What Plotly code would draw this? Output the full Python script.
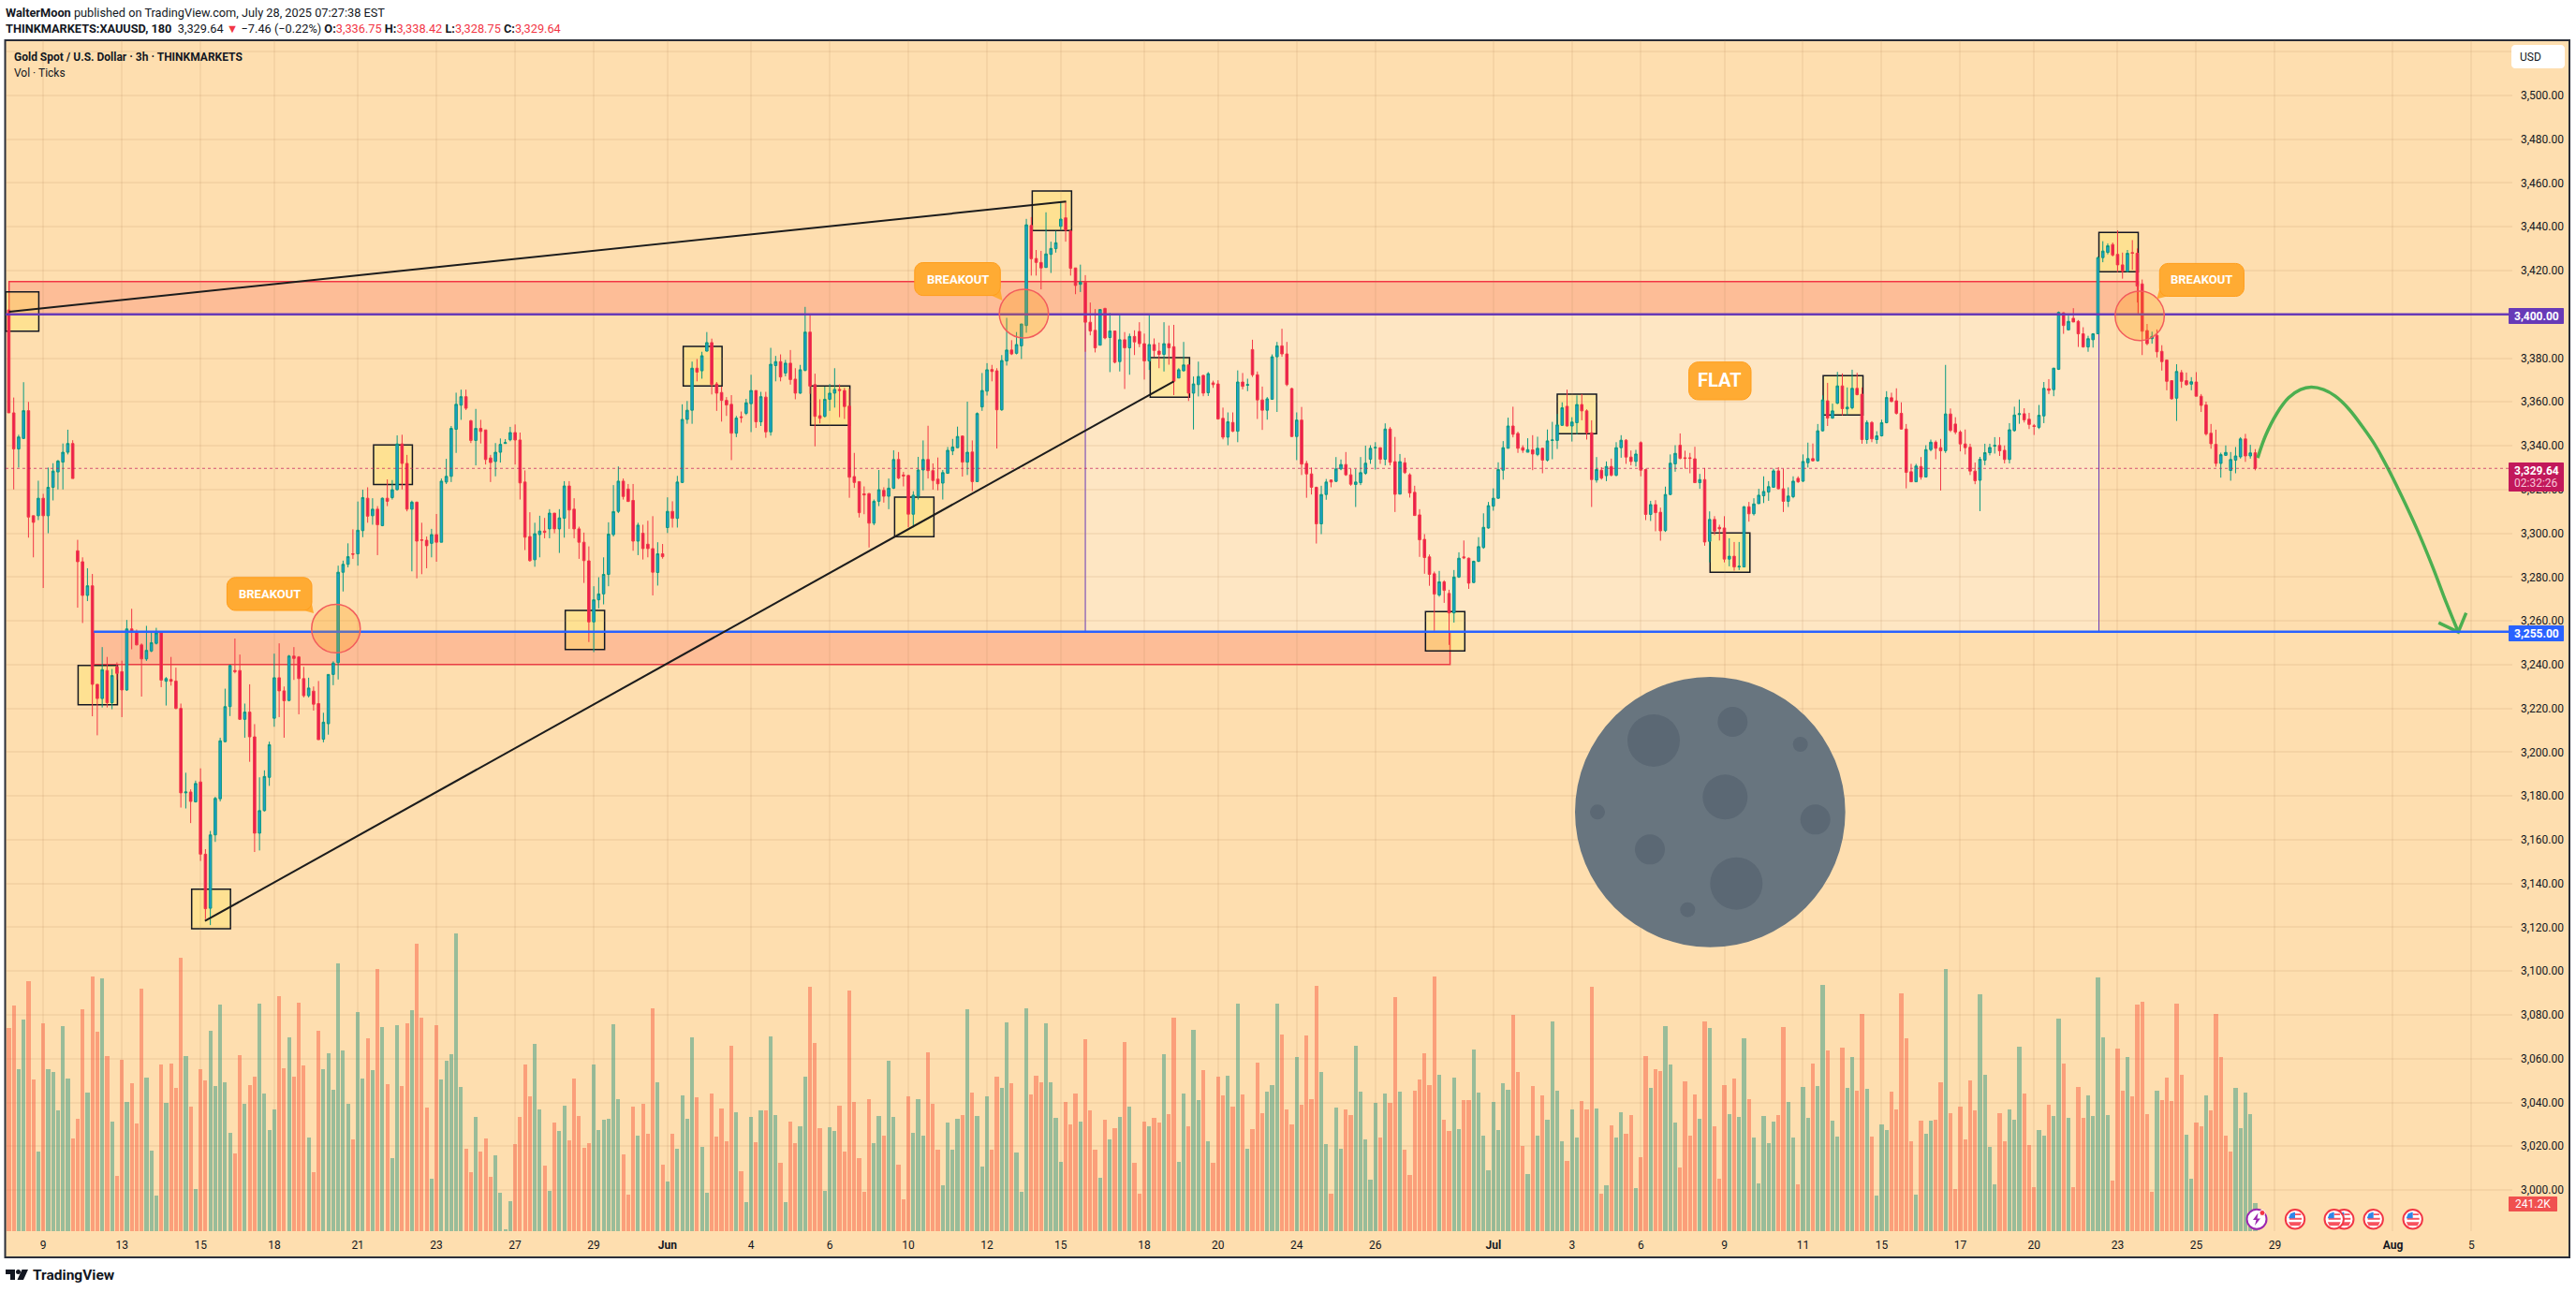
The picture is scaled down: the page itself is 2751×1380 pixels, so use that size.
import plotly.graph_objects as go

# ---------- candles (3h bars, bar index = position in list) ----------
opens = [
3402,3355,3338.5,3343.3,3356,3308,3308,3316,3308,3321,
3328,3332.5,3337,3341,3292,3287,3271.6,3276,3231,3224.5,
3237.3,3222.6,3239,3236.8,3228.4,3256.3,3254.7,3249,3242.6,3246.2,
3249.7,3254.5,3232.4,3233.2,3232.5,3220,3181.4,3181.8,3177.3,3186.4,
3153.4,3128.7,3162.2,3178.7,3204.8,3220.8,3237.3,3237.3,3215,3218.3,
3207,3163,3173.3,3188.5,3215.5,3234,3228,3223.6,3243.9,3243.5,
3233.6,3225.8,3227.9,3222.2,3205.9,3213,3235.5,3240.9,3282.2,3285.8,
3290.6,3290.6,3301.2,3316,3308,3311,3303.5,3316,3316.3,3319.9,
3340.8,3331.9,3311,3314.2,3297,3296.8,3295.4,3299.4,3295.9,3323.4,
3326,3347.5,3358.5,3362.4,3351.4,3342.4,3347.9,3347.2,3334.4,3332.8,
3337,3341,3342.7,3346,3342.6,3323.4,3298.5,3287.9,3299.4,3301,
3302,3309.2,3302,3306.9,3321.6,3311,3302,3295.9,3287.4,3259.5,
3269.6,3272.3,3281.2,3299.4,3310,3323.8,3320.2,3315,3296.4,3300,
3295,3293,
3282.1,3290.6,3302.6,3310,3306.8,3323.2,3352,3356.2,3375.4,3374.2,
3383.2,3387.1,3368.2,3364.3,3360.7,3358.9,3345.7,3353.2,3354.8,3359.2,
3365.2,3350.9,3362.2,3346.3,3376.6,3378.4,3373.2,3377.7,3370.4,3364,
3374.4,3391.9,3367.9,3353.7,3353.4,3361.2,3364,3365.7,3365.2,3358.1,
3325.9,3323.6,3318,3318.1,3304.6,3314.6,3319.6,3316.9,3320.6,3333.7,
3326.6,3326.4,3308.7,3316.9,3328.9,3333.7,3328.6,3324.7,3322.9,3327.4,
3337.6,3339.1,3344.4,3332.5,3337.1,3323.6,3357.7,3364.9,3374.8,3374.2,
3356.4,3378.7,3383.7,3382.2,3385.6,3394.9,3440.6,3425.5,3423.7,3421.4,
3427.4,3430,3440.2,3444.1,3438.1,3421.2,3413.7,3414.7,3396.4,3392.7,
3385.9,3402.7,3389.4,3392.4,3378.4,3388.4,3384.7,3389.9,3392.2,3386.6,
3378.7,3386.2,3383.2,3381.7,3386.6,3385.2,3370.9,3374.2,3376.9,3364,
3367.9,3372.1,3364.2,3368.7,3368.2,3352.5,3343.9,3350.6,3346.6,3369.1,
3367.6,3383.9,3372.4,3360.9,3356.2,3361.2,3380.6,3385.6,3381.9,3366.1,
3344.2,3351.7,3331.9,
3327.1,3321,3304.3,3317.7,3324.3,3323.7,3329.4,3331.4,3326.7,3322.3,
3323.1,3327.4,3333.8,3339,3339.1,3333.8,3347.6,3332.7,3317.9,3332.2,
3326.7,3318.7,3308.4,3297.2,3289.2,3281.5,3271.8,3277.8,3272.5,3263.6,
3280,3289.2,3288.6,3277.5,3287.2,3293.5,3302.4,3312.4,3316,3328.8,
3338.8,3349,3345.6,3339.1,3337,3338.1,3336,3338.8,3333.4,3342.4,
3342.4,3349.3,3358,3349,3350.5,3358.8,3355.9,3345.9,3324.3,3328.8,
3326.3,3330.5,3326.5,3339.1,3342.5,3334.8,3332.8,3341.4,3329.1,3308.6,
3313.1,3309.6,3301.2,3317.7,3331.7,3340.2,3334.5,3334.5,3334,3323.1,
3324.5,3296.3,3306.3,3302.7,3302.4,3288.2,3289.5,3284.6,3284.6,3312.1,
3308.9,3313.5,3317.1,3318.8,3321,3328.5,3320.3,3314.6,3316.7,3325.1,
3323.8,3332.2,3334.1,3333.1,3346.8,3360.5,3352.6,3359.4,3367.3,3356.8,
3357.3,3366.2,3363.5,3342.8,3350.6,3342.8,3344.5,3350.5,3361.9,3360.5,
3354.8,3347.6,3328.1,3323.5,3330.5,3325.7,3338.2,3341.6,3339.1,3337.7,
3354.5,3349.9,3346.2,3340.8,
3339.3,3328.4,3324.2,3333.4,3336.8,3339.8,3340.1,3337.9,3333.7,3346.9,
3354.2,3354.6,3352.1,3349.1,3348.4,3353.6,3366,3365.6,3374.9,3400.7,
3392.9,3398.2,3396.8,3391.1,3385.1,3388.4,3391.1,3425.9,3428.3,3431.9,
3427.4,3422.6,3419.6,3428.2,3427.9,3413.9,3392.6,3388.9,3390.4,3383.1,
3379.1,3369.7,3361.7,3373.4,3369.7,3368.1,3369.1,3362.6,3358.6,3345.7,
3340.6,3331.9,3335.6,3328.7,3333.4,3334.9,3343.1,3335.3,3336.75]
highs = [
3402,3362,3345,3369,3360,3308,3324,3318,3330,3332,
3333.5,3341,3347.3,3342.5,3297,3289,3284,3281.4,3231,3248,
3243.5,3238,3241,3241.8,3260.4,3265.5,3256,3249.7,3257.7,3255,
3256.8,3254.5,3234.3,3243.5,3238.6,3222.2,3190.6,3183,3187,3192.6,
3155.7,3164,3179.6,3206.6,3229,3240,3251.9,3244.6,3222.2,3231,
3212.8,3188.5,3191.7,3204.8,3245,3249.7,3230,3244.4,3248,3243.9,
3239,3234,3230,3232.5,3218,3235.5,3241.5,3285.2,3287.5,3295.4,
3301.8,3314.5,3319.9,3321,3316,3312.4,3316.3,3324.6,3324.3,3344.7,
3345,3335.8,3314.9,3314.5,3304.8,3298.5,3302,3308.8,3325,3334,
3349,3364.2,3365.6,3365.6,3351.8,3356.8,3351.8,3347.2,3335.8,3341.2,
3343.3,3343,3348.6,3349.7,3346,3328.7,3309.6,3304.8,3308,3307,
3311,3309.2,3311,3323.8,3323.8,3316,3303,3300.3,3294,3275.8,
3279.9,3289,3305,3322,3330.5,3325,3322.5,3322.5,3304.8,3303.9,
3305.7,3307.8,
3295.9,3295.1,3316.4,3314.6,3326.2,3358.9,3360.4,3378.4,3379.6,3382.9,
3391.9,3388.9,3369.1,3367,3362.2,3363.1,3353.6,3355.6,3361.4,3372.4,
3365.2,3364.6,3364.6,3384.7,3381,3381.7,3379.2,3383.7,3375.4,3376.9,
3403.4,3399.9,3372.9,3361.2,3367,3368.2,3375.4,3368,3366.4,3366,
3336.7,3323.6,3321.4,3318.4,3315.4,3328.9,3321,3325,3337.9,3337.1,
3328,3326.6,3319.2,3334.9,3342.4,3349.1,3331.9,3334.6,3328.9,3339.4,
3343.1,3348.7,3344.6,3360.1,3342.4,3355.2,3373.2,3377.7,3376.9,3375.4,
3381.4,3398.4,3388.2,3391.9,3395.6,3443.6,3444.4,3429.4,3429,3446.6,
3433.2,3438.1,3451.2,3451.2,3438.1,3421.2,3422.7,3417.9,3405.4,3402.4,
3402.4,3403,3400.6,3392.4,3399.9,3391.9,3391.2,3392.7,3396.4,3391.2,
3399.9,3389,3387.1,3396.4,3394.9,3395.2,3375.4,3387.4,3376.9,3371.6,
3378.4,3372.4,3373.6,3369.7,3369.9,3357.4,3355.2,3355.2,3374.4,3373.2,
3370.6,3388.4,3373.9,3367,3362.2,3381.7,3387.4,3393.4,3387.4,3366.4,
3355.2,3357.7,3333.1,
3330,3321.3,3321.7,3324.8,3324.6,3334.8,3333.7,3337.1,3329.5,3329.4,
3334.8,3340,3340.2,3341.6,3339.1,3350.2,3348.5,3344,3336.2,3334.5,
3327.4,3321.7,3311,3299.6,3290.3,3282.5,3282.8,3278.5,3274.2,3283.2,
3291.3,3296.7,3288.9,3287.5,3298.2,3309.1,3314.3,3320.5,3332.4,3342.1,
3352.8,3357.8,3346.4,3340.2,3343.4,3344.8,3344.1,3339.1,3347.4,3350.9,
3354.5,3359.8,3365.6,3353,3363,3363.6,3356.6,3351.6,3334.8,3330.2,
3332.8,3334.1,3341.6,3344.8,3343,3337.8,3338.1,3342,3329.5,3314.8,
3315.1,3311.7,3321.3,3336,3340.2,3345.6,3337.7,3336.7,3339.5,3327.1,
3329.8,3310,3307.8,3303.9,3307.8,3297.7,3296,3296,3312.4,3314.3,
3316,3320.3,3326,3323.8,3329.5,3330.2,3329.5,3321,3326,3326,
3336,3341.4,3341,3349.9,3363,3368.7,3359.2,3373.7,3373,3366.6,
3374.7,3373.3,3366.6,3351.6,3351.2,3346.6,3351.9,3364.9,3364.2,3366.2,
3359.8,3349.9,3331.7,3331.7,3334.8,3340.2,3342.8,3342.4,3343.1,3376.9,
3357,3353,3347,3347.4,
3340.9,3332.3,3334.9,3340.9,3340.9,3343.9,3343.9,3340.1,3350.3,3357.8,
3361.1,3357.1,3355,3349.9,3358.6,3369.1,3370.4,3375.6,3401.3,3400.9,
3399.4,3402.8,3397.4,3394.1,3390.2,3391.4,3426.4,3433.4,3432.4,3432.8,
3438.4,3428.2,3429.4,3433.9,3430.1,3415.9,3395.6,3392.1,3393.1,3385.9,
3379.4,3369.8,3377.2,3374.6,3373.4,3371.3,3373.6,3363.6,3360.1,3349.9,
3347.3,3336.8,3340.1,3337.1,3339.4,3343.9,3345.4,3340.4,3338.42]
lows = [
3355,3320,3330,3343,3298,3289,3306,3275,3300,3315,
3320,3320,3336,3325,3266,3259,3269,3216.4,3207.7,3220.4,
3220.4,3219.6,3233,3216,3228,3247,3248.8,3225.4,3241.7,3245.7,
3249.2,3229.7,3221.3,3230.4,3219.6,3174.7,3174.3,3167.6,3177,3150.3,
3123.7,3121,3159,3177.5,3204.5,3216.5,3236,3214.8,3206.6,3195.6,
3154.4,3155.1,3172.9,3184.6,3211.6,3216,3206.6,3223.2,3233,3217.3,
3225,3225,3219,3205.7,3204.5,3208,3230.6,3233.2,3273.4,3284.4,
3288.3,3285.2,3298.2,3304.8,3303.9,3290,3303.2,3312.4,3315.4,3319.5,
3320,3310,3282.6,3279.4,3281.3,3284,3289,3287,3295.9,3322.5,
3323.4,3336.7,3351.8,3356.3,3341.2,3331,3341,3331.4,3323.4,3326,
3332.3,3341,3342,3331.4,3315.4,3292.3,3287,3284.7,3289,3297.7,
3297.7,3300,3291,3298,3302,3297.7,3288.3,3277.3,3250.3,3245.7,
3265.7,3267.5,3275.8,3298.5,3309.2,3315.4,3314.5,3292,3290,3288,
3289,3271.6,
3276.1,3288.4,3300.1,3302.6,3302.6,3322.9,3350,3350,3369.4,3370.6,
3383,3363.4,3355.9,3351,3353.6,3333.4,3343.9,3350.5,3354,3346.2,
3348.1,3349,3343.6,3344.6,3369.4,3369.4,3371.7,3367.9,3361.2,3363.7,
3374,3363.7,3339.7,3350.2,3352.9,3355.9,3357.4,3353,3352.2,3316.2,
3320.7,3307.2,3308.7,3293.5,3303.7,3312.4,3314,3311,3320.2,3324.7,
3321.4,3302.7,3302.7,3315.4,3319.6,3325,3319.9,3319.6,3315.4,3327.1,
3335.7,3339,3325.9,3326.6,3319.2,3323.6,3355.9,3362.9,3369.4,3338.7,
3355.9,3376.6,3381.4,3381.7,3379.6,3391.6,3417.7,3417.7,3411.4,3421.4,
3418.9,3428.2,3438.4,3433.2,3417.7,3409.2,3410.2,3382.9,3390.4,3382.6,
3385.9,3388.6,3373.6,3377.6,3373.9,3365.9,3372.4,3381.4,3385,3370.2,
3374.6,3380.6,3375.4,3373.9,3377,3363.1,3370.9,3373.9,3360.4,3347.4,
3362.5,3362.6,3362.7,3366.4,3351.9,3342.9,3340.2,3346.2,3341.6,3365.7,
3364.9,3371.4,3352.2,3347.2,3351.9,3361.2,3355.4,3380.6,3367.2,3343.9,
3333.4,3326.6,3316.2,
3317.7,3295.3,3299.6,3315.3,3321,3323.4,3328.8,3326.2,3321.7,3312,
3322,3326.7,3331.7,3329.1,3331.7,3331,3331,3309.7,3317.7,3327.1,
3316.3,3308.1,3289.2,3281.5,3276,3255.4,3271,3268.2,3249,3259.2,
3279.6,3288.2,3274.6,3277.2,3286.8,3292.9,3302.1,3310.3,3315.7,3324.5,
3338.8,3343.8,3336.7,3336.7,3337,3328.8,3335.2,3327.4,3332.8,3333.8,
3338.5,3349.1,3348.8,3341.9,3345.2,3351.6,3342.8,3312,3323.1,3324.5,
3323.8,3326,3326,3334.5,3331.7,3331,3330.5,3326,3306,3305.6,
3300.9,3296.6,3300.6,3317.4,3328.1,3333.8,3329.5,3327.4,3323.1,3320.3,
3294.3,3286.7,3299.2,3296.7,3286.7,3284.9,3282.9,3283.2,3284.6,3305.3,
3308.1,3313.6,3313.8,3314.8,3321,3320,3309.7,3312,3316,3323,
3323.4,3330,3332.8,3332.8,3346.5,3349,3352.3,3359,3353.8,3354,
3356.6,3363,3340.9,3340.9,3341.6,3340.9,3344.2,3350.2,3359.9,3354.2,
3347.3,3320.5,3323.4,3323.4,3324.5,3325.7,3337.4,3333.8,3319.5,3336.7,
3346.2,3345.2,3337.4,3336,
3326.6,3322.4,3310.1,3331.1,3335.6,3336.4,3335.3,3331.9,3331.9,3346.4,
3350,3350.6,3347.6,3344.9,3347.6,3350.3,3363.6,3362.6,3374.6,3391.1,
3392.9,3396.5,3385.1,3384.8,3382.9,3384.8,3391.1,3423.8,3427.4,3426.4,
3419.3,3416.3,3419.3,3420.4,3405.4,3381.4,3385.9,3386.6,3380.3,3374.3,
3365.3,3361.1,3351.3,3366.4,3367.4,3365.3,3362.6,3355.4,3344.6,3338.6,
3330.4,3325.4,3335.3,3324,3327.4,3334.1,3332.6,3334.1,3328.75]
closes = [
3355,3338.5,3344,3356,3307.4,3305,3316,3308,3321,3328.4,
3333,3337,3341,3325,3287,3271.6,3276,3231,3224.5,3237.7,
3222.6,3235,3236,3228.4,3256.3,3254.7,3249,3242.6,3246.5,3250,
3254.5,3232.9,3233.6,3232.4,3220,3181.4,3181.8,3177.5,3185.7,3153.4,
3128.5,3162.2,3178.9,3205.2,3220.8,3239.6,3236.8,3215,3218.3,3207,
3163,3173.3,3188.9,3203.4,3234,3228,3223.5,3243.9,3242.8,3233.6,
3225.8,3229.3,3221.9,3205.7,3213.7,3235.5,3240.7,3282.2,3285.8,3289.3,
3290.4,3301.4,3316.3,3307.8,3311,3303.9,3316,3314.6,3319.9,3340.8,
3331.9,3311,3314.2,3296.4,3296.8,3294.3,3299.4,3295.9,3323.8,3326,
3347.9,3358.9,3362.4,3357.1,3342.4,3347.9,3346.5,3333.7,3332.3,3337,
3340.6,3341.4,3346,3342.6,3323,3298.2,3287.5,3299.8,3301,3300.4,
3309.2,3302,3307,3321.6,3310.6,3302,3295.9,3287.5,3259.5,3269.6,
3272.3,3281.2,3299.6,3309.9,3323.8,3316.8,3314.5,3296.4,3303.7,3293,
3293,3282.2,
3290.6,3289.3,3310,3306.8,3323.4,3352,3356.2,3375.4,3373.6,3381.1,
3387.1,3367.9,3364,3360.7,3358.6,3345.7,3352.6,3352.9,3359.6,3365.2,
3350.9,3362.4,3346.3,3377.2,3378.4,3371.4,3377.7,3370.2,3364,3374.7,
3391.9,3367.2,3353.4,3352.5,3361.2,3364,3365.7,3365.2,3357.9,3325.6,
3323.2,3309.4,3317.5,3304.6,3314.6,3319.9,3316.9,3320.6,3333.7,3325.2,
3326.2,3308.7,3317.4,3328.9,3333.7,3328.6,3324.1,3322.6,3327.7,3337.9,
3339.4,3344.2,3332.5,3337,3323.6,3354.7,3365.2,3374.7,3373.9,3356.4,
3378.9,3383.7,3381.9,3386.2,3395.6,3440.9,3425.4,3423.7,3421.2,3427.6,
3430.1,3432.7,3443.5,3438.4,3421,3413.2,3414.7,3396.4,3392.4,3384.7,
3402.2,3389.2,3392.4,3378.1,3388.4,3384.7,3389.9,3387.4,3386.6,3378.7,
3386.2,3383.5,3381.7,3386.6,3384.7,3369.4,3374.7,3376.9,3364,3368.2,
3371.6,3364,3372.9,3367.9,3352.2,3343.9,3350.9,3346.6,3369.1,3367.1,
3367.9,3372.4,3360.9,3356.2,3361.4,3380.6,3385.6,3381.9,3367.9,3344.2,
3351.7,3331.6,3327.1,
3321,3304.3,3317.7,3323.4,3323.4,3329.4,3331.4,3326.7,3322.4,3323.4,
3327.7,3332,3338.8,3339.2,3333.8,3347.6,3332.4,3317.8,3332.7,3327.7,
3318.4,3308.1,3297,3288.9,3281.2,3272.2,3277.8,3273.9,3263.6,3280,
3288.6,3288.8,3277.2,3287.2,3293.9,3302.7,3312.6,3316,3329.1,3339.1,
3349,3345.2,3338.8,3337.9,3338.2,3336.2,3338.8,3333.4,3342.2,3342.6,
3349.5,3357.3,3349,3350.8,3358.8,3355.9,3345.9,3324.5,3329.1,3325.2,
3330.5,3326.5,3339.1,3342.5,3334.8,3332.8,3336.2,3328.8,3308.6,3313.1,
3309.4,3301.1,3317.7,3332,3336.5,3334.2,3334.2,3334.2,3323.1,3324.5,
3296,3306.3,3301,3302,3288.2,3289.5,3284.6,3284.9,3312.1,3308.9,
3313.4,3317.4,3319.1,3321.3,3328.5,3320.3,3314.6,3317,3323.8,3323.5,
3332.8,3334.1,3333.1,3346.8,3360.9,3352.6,3355.9,3367.3,3356.9,3357.6,
3366.2,3363.3,3342.8,3350.6,3343.1,3344.5,3350.5,3362,3360.2,3354.8,
3347.6,3327.8,3323.5,3330.7,3325.7,3338.2,3341.6,3338.8,3337.7,3354.5,
3347,3346.2,3340.8,3339.1,
3328.4,3324,3333.8,3336.8,3339.2,3340.1,3337.7,3333.7,3347.3,3354,
3354.6,3351.8,3349.7,3348.8,3353.9,3366.2,3365.3,3375.4,3400.9,3394.9,
3396.8,3396.5,3391.1,3385.1,3388.9,3391.1,3425.9,3428.9,3431.3,3427.1,
3422.6,3419.6,3427.9,3427.9,3412.9,3392.3,3386.6,3389.9,3382.9,3378.4,
3369.4,3361.4,3373.9,3369.4,3367.9,3369.2,3362.6,3358.4,3345.4,3340.9,
3331.9,3335.9,3336.9,3333.7,3335.3,3343.1,3335.3,3336.7,3329.64]

# ---------- volume (thousand ticks) and bar direction ----------
volumes = [
1762,1957,1404,1835,2168,1314,688,1802,1404,1379,
1046,1778,1322,802,973,1924,1201,2209,1729,2192,
1518,949,477,1485,1119,1282,932,2103,1331,696,
306,1444,1111,1453,1241,2371,1518,1079,363,1404,
1306,1737,1257,1965,1290,851,672,1526,1103,1266,
1339,1973,1192,875,1054,2038,1412,1680,1339,1981,
1436,810,509,1737,1404,1542,1225,2322,1566,1103,
794,1900,1322,1672,1396,2274,1770,1274,631,1786,
1257,1802,1916,2493,1851,1070,453,1786,1314,1477,
1534,2583,1249,713,509,989,688,802,469,656,
331,14,257,753,989,1444,1168,1623,1054,566,
347,940,867,1087,786,1322,997,721,762,1444,
875,965,973,1794,1144,664,314,1079,827,1103,
843,1932,1290,575,428,843,713,1176,973,1680,
1160,729,331,1192,818,1062,778,1607,1030,518,
249,
989,770,1046,1046,1688,1005,591,249,949,762,
908,1339,2119,1631,892,347,900,867,1087,688,
2087,1119,631,339,1144,762,997,827,1477,989,
575,274,1168,851,1144,827,1550,1103,705,396,
940,705,973,1005,1924,1201,997,558,1168,705,
1339,1241,1810,1282,680,339,1932,1184,1347,1290,
1802,1290,981,599,1119,924,1192,949,1664,1046,
705,461,965,794,892,989,1640,1079,591,322,
949,908,981,940,1534,1014,1851,599,1192,908,
1745,1135,1396,778,591,1339,1176,1347,1079,1973,
1184,713,883,1461,1022,1209,1266,1973,1705,1054,
924,1509,1095,1696,1144,2127,1379,753,322,1070,
713,1054,1005,1607,1209,794,444,1111,810,1192,
1111,2030,1209,705,485,1217,1314,1542,1266,2209,
1355,965,867,1331,883,1135,1135,1575,1201,827,
526,1119,875,
1282,1225,1875,1379,737,493,1257,827,1176,965,
1818,1217,778,607,1054,810,1127,1054,2119,1062,
322,396,916,810,1030,843,1005,371,640,1518,
1241,1404,1388,1778,1444,940,550,1298,827,1184,
973,1818,1762,908,453,1266,1014,1322,989,1672,
1144,810,412,997,762,949,1005,1770,1119,810,
404,1249,981,1453,1257,2135,1566,957,818,1591,
1241,1509,1217,1883,1233,818,306,924,875,1209,
1054,2062,1672,778,314,957,843,957,965,1290,
2274,1022,363,1079,794,1306,1046,2054,1355,729,
404,1022,778,1054,965,1599,1192,745,379,875,
827,1095,997,1843,1453,981,379,1249,981,1176,
997,2201,1680,1005,436,1583,1217,1509,1168,1965,
1989,1014,339,1217,1135,1331,1127,1973,1355,835,
453,940,908,1176,1046,1883,1509,827,688,1241,
892,1201,1014,241.2]
volume_dir = (
"RRGGRRGRGG" "GGGRRRGRRG" "RGRRGRRRGG" "GRGRRRGRGR"
"RGGGGGRRGR" "RGGGGRRGRR" "RGRRGGGGGG" "RGGRGRGRGG"
"RRGRRRGRGG" "GGGRRGRRRG" "GGGRRRRGGR" "GRGGRRRRRG"
"GGGGGRRRGR" "RRGRGRGGGG" "RGGRRRRRGR" "G"
"GRGRGGRGRR" "GGRRRGGGRR" "RRRRRGGRGG" "RRRGGGRRRG"
"GGGRGRGGGR" "RGGRGGGRRR" "GGGGRRRGRR" "RGRGRGRGRR"
"RGRRGRRGGR" "GGRGRRRGRG" "RGRRRGGGRR" "RGRRRRGGRG"
"GRRGGGGGRG" "RRGRRRRRRR" "GRRGGRRGGG" "GGG"
"GGRRRGRGRG" "GGGRGGRRRG" "RGRGGRRGRR" "GRRGGGRRRR"
"GRGRRRGRGG" "RGGGGGRRGG" "RGGRGGRGGR" "GGRRGRGGGR"
"RRRRGRGGRR" "GRRRRRRGGG" "GRRGGGRRRG" "GRGGRGRRRG"
"GGGGRRRGRR" "RRRGRRRRRG" "GRRGRRRRRG" "GGGGGRGR")

# ---------- axis ticks ----------
date_pos = [7,23,39,54,71,87,103,119,134,151,167,183,199,214,231,246,262,278,302,318,332,349,365,381,397,412,429,445,461,485,501]
date_txt = ["9","13","15","18","21","23","27","29","<b>Jun</b>","4","6","10","12","15","18","20","24","26","<b>Jul</b>","3","6","9","11","15","17","20","23","25","29","<b>Aug</b>","5"]
price_ticks = [3000,3020,3040,3060,3080,3100,3120,3140,3160,3180,3200,3220,3240,3260,3280,3300,3320,3340,3360,3380,3400,3420,3440,3460,3480,3500,3520]
price_labels = ["3,000.00","3,020.00","3,040.00","3,060.00","3,080.00","3,100.00","3,120.00","3,140.00","3,160.00","3,180.00","3,200.00","3,220.00","3,240.00","3,260.00","3,280.00","3,300.00","3,320.00","3,340.00","3,360.00","3,380.00","","3,420.00","3,440.00","3,460.00","3,480.00","3,500.00",""]
price_min, price_max = 2981.2, 3525.2
volume_max = 10341
last_price = 3329.64
resistance, support = 3400, 3255

# ---------- drawings, in bar index / price ----------
rect_i0 = [-0.65,14.1,37.2,74.2,113.2,137.2,163.1,180.2,208.2,232.2,288.2,315,346.1,369.1,425.2]
rect_i1 = [6.1,22.1,45.1,82.1,121.2,145.1,171.1,188.2,216.2,240.2,296.2,323,354.2,377.2,433.2]
rect_p0 = [3392.3,3221.7,3119.3,3322.3,3246.9,3367.3,3349.3,3298.4,3438.3,3362.2,3246.2,3345.5,3282.2,3354,3419.5]
rect_p1 = [3410.3,3239.6,3137.4,3340.3,3264.8,3385.3,3367.3,3316.5,3456.3,3380.2,3264.2,3363.5,3300.1,3372,3437.4]
circle_i0 = [61.6,201.5,428.5]
circle_i1 = [71.5,211.5,438.5]
circle_p0 = [3245.4,3389.2,3388]
circle_p1 = [3267.5,3411.4,3410.6]
forecast_i = [457.5,459.1,461.5,463.8,466.2,468.4,470.9,473.3,476.1,478.9,481.2,484,486.8,489.9,493.1,495.9,498.3]
forecast_p = [3334.4,3344.6,3355.1,3361.9,3365.6,3366.7,3365.6,3362.6,3356.6,3348.4,3340.9,3329.6,3316.9,3301.9,3284.6,3268.1,3254.9]
arrow_i = [494.3,498.3,499.9]
arrow_p = [3259.1,3254.9,3263.6]

# ---------- page geometry ----------
W, H = 2751, 1380
PL, PR, PT, PB = 6, 2683, 43, 1315
BG = "#FEDEAF"
fx = lambda x: (x - PL) / (PR - PL)
fy = lambda y: (PB - y) / (PB - PT)
n = min(len(opens), len(highs), len(lows), len(closes))
idx = list(range(n))
m = min(len(volumes), len(volume_dir))

def poly(pts):
    return "M" + " L".join(f"{fx(x):.6f},{fy(y):.6f}" for x, y in pts) + " Z"

def rrect(x0, y0, x1, y1, r):
    k = 0.45 * r
    c = lambda x, y: f"{fx(x):.6f},{fy(y):.6f}"
    return (f"M{c(x0+r,y0)} L{c(x1-r,y0)} C{c(x1-k,y0)} {c(x1,y0+k)} {c(x1,y0+r)} "
            f"L{c(x1,y1-r)} C{c(x1,y1-k)} {c(x1-k,y1)} {c(x1-r,y1)} "
            f"L{c(x0+r,y1)} C{c(x0+k,y1)} {c(x0,y1-k)} {c(x0,y1-r)} "
            f"L{c(x0,y0+r)} C{c(x0,y0+k)} {c(x0+k,y0)} {c(x0+r,y0)} Z")

shapes, anns = [], []
def pshape(path, fill, line=None, lw=0, layer="above"):
    shapes.append(dict(type="path", xref="paper", yref="paper", path=path, fillcolor=fill,
                       line=dict(color=line or fill, width=lw), layer=layer))
def pcircle(cx, cy, r, fill, line=None, lw=0, layer="above"):
    shapes.append(dict(type="circle", xref="paper", yref="paper", x0=fx(cx-r), x1=fx(cx+r),
                       y0=fy(cy+r), y1=fy(cy-r), fillcolor=fill,
                       line=dict(color=line or fill, width=lw), layer=layer))
def text(x, y, s, size=12, color="#131722", xa="left", family="Roboto"):
    anns.append(dict(xref="paper", yref="paper", x=fx(x), y=fy(y), text=s, showarrow=False,
                     xanchor=xa, yanchor="middle", align="left", borderpad=0, borderwidth=0,
                     font=dict(family=family, size=size, color=color)))

# chart background + frame (extends under both axes)
shapes.append(dict(type="rect", xref="paper", yref="paper", x0=fx(5.5), x1=fx(2744), y0=fy(1343), y1=fy(43),
                   fillcolor=BG, line=dict(color="#2A2E39", width=2), layer="below"))

# zones
DRAW = dict(xref="x", yref="y", layer="below")
shapes.append(dict(type="rect", x0=0.05, x1=433.2, y0=resistance, y1=3415,
                   fillcolor="rgba(252,90,80,0.25)", line=dict(color="#F23645", width=1.5), **DRAW))
shapes.append(dict(type="rect", x0=17.3, x1=293.2, y0=3240, y1=support,
                   fillcolor="rgba(252,90,80,0.25)", line=dict(color="#F23645", width=1.5), **DRAW))
shapes.append(dict(type="rect", x0=219, x1=425.2, y0=support, y1=resistance,
                   fillcolor="rgba(255,255,255,0.25)", line=dict(color="#673AB7", width=1), **DRAW))
for a, b, c, d in zip(rect_i0, rect_i1, rect_p0, rect_p1):
    shapes.append(dict(type="rect", x0=a, x1=b, y0=c, y1=d,
                       fillcolor="rgba(255,235,59,0.25)", line=dict(color="#131722", width=1.5), **DRAW))

# horizontal levels
LEVEL = dict(xref="x", yref="y", layer="above")
shapes.append(dict(type="line", x0=-0.65, x1=509.3, y0=last_price, y1=last_price,
                   line=dict(color="rgba(194,24,91,0.7)", width=1, dash="dot"), **LEVEL))
shapes.append(dict(type="line", x0=-0.65, x1=509.3, y0=resistance, y1=resistance,
                   line=dict(color="#673AB7", width=2.5), **LEVEL))
shapes.append(dict(type="line", x0=17.3, x1=509.3, y0=support, y1=support,
                   line=dict(color="#2962FF", width=2.5), **LEVEL))
# trend lines
shapes.append(dict(type="line", x0=0.07, x1=215.1, y0=3401.2, y1=3451.5,
                   line=dict(color="#1C1C1C", width=2), **LEVEL))
shapes.append(dict(type="line", x0=39.9, x1=237, y0=3122.9, y1=3369.4,
                   line=dict(color="#1C1C1C", width=2), **LEVEL))
# circles
for a, b, c, d in zip(circle_i0, circle_i1, circle_p0, circle_p1):
    shapes.append(dict(type="circle", x0=a, x1=b, y0=c, y1=d, fillcolor="rgba(255,152,0,0.25)",
                       line=dict(color="#F25C5C", width=1.5), **LEVEL))

# callouts
OR, ORL = "#FFAB33", "#FF9D1A"
for (x0, y0, x1, y1, tip, left) in [(242.4, 616.8, 333, 652, (335, 655), False),
                                    (976.8, 280.5, 1068.3, 315.6, (1070.5, 321), False),
                                    (2306.3, 281.4, 2396.4, 316.5, (2303.4, 319.3), True)]:
    if left:
        pshape(poly([(x0+12, y1-1), (x0+1, y1-12), tip]), OR)
    else:
        pshape(poly([(x1-12, y1-1), (x1-1, y1-12), tip]), OR)
    pshape(rrect(x0, y0, x1, y1, 9), OR, ORL, 1)
    text((x0+x1)/2, (y0+y1)/2, "<b>BREAKOUT</b>", 13, "white", "center")
pshape(rrect(1803.6, 386.7, 1870, 427, 10), OR, ORL, 1)
text(1836.8, 406.5, "<b>FLAT</b>", 20, "white", "center")

# moon
MX, MY = 1670, 710
pcircle(MX+469/3, MY+472/3, 433/3, "#68757F")
for cx, cy, r in [(288,243,84),(541,183,48),(758,255,24),(517,424,72),(108,472,24),
                  (806,496,48),(276,592,48),(553,701,84),(397,785,24)]:
    pcircle(MX+cx/3, MY+cy/3, r/3, "#5B6874")

# event icons
def flag(x, y=1302.3):
    pcircle(x, y, 10.2, "white", "#F23645", 2)
    pshape(poly([(x-6,y-1.5),(x+7,y-1.5),(x+7,y+0.5),(x-6,y+0.5)]), "#F7525F")
    pshape(poly([(x-7,y+3),(x+7,y+3),(x+5,y+7),(x-5,y+7)]), "#F7525F")
    pshape(poly([(x,y-6),(x+6,y-6),(x+6.5,y-4.2),(x,y-4.2)]), "#F7525F")
    pshape(poly([(x-7,y-1),(x-5,y-6),(x-1,y-7.5),(x,y-7.5),(x,y-1)]), "#2E86E8")
for xx in [2451, 2503.3, 2492.7, 2534.7, 2576.7]:
    flag(xx)
pcircle(2410, 1302.3, 10.5, "white", "#9C27B0", 2)
pshape(poly([(2411.5,1295.5),(2406,1303),(2409.5,1303),(2408,1309),(2414,1301.5),(2410.5,1301.5)]), "#9C27B0")
pcircle(2416, 1295.5, 3, "#F23645", "white", 1)

# price tags and axis widgets
pshape(rrect(2682, 48, 2739, 73, 4), "white")
text(2691, 61, "USD", 12)
pshape(rrect(2679, 329, 2738, 346, 1), "#673AB7")
text(2708.5, 337.5, "<b>3,400.00</b>", 12, "white", "center")
pshape(rrect(2679, 668, 2738, 685, 1), "#2962FF")
text(2708.5, 676.5, "<b>3,255.00</b>", 12, "white", "center")
pshape(rrect(2679, 494, 2738, 525, 1), "#C2185B")
text(2708.5, 502.5, "<b>3,329.64</b>", 12, "white", "center")
text(2708.5, 516, "02:32:26", 12, "#F8C4D8", "center")
pshape(rrect(2679, 1278, 2731, 1294, 1), "#F0504F")
text(2705, 1286, "241.2K", 12, "white", "center")

# header text
RED = "#F23645"
text(6, 14, "<b>WalterMoon</b> published on TradingView.com, July 28, 2025 07:27:38 EST", 12.75)
text(6, 31, f"<b>THINKMARKETS:XAUUSD, 180</b>  3,329.64 <span style='color:{RED}'>▼</span> −7.46 (−0.22%) "
            f"<b>O:</b><span style='color:{RED}'>3,336.75</span> <b>H:</b><span style='color:{RED}'>3,338.42</span> "
            f"<b>L:</b><span style='color:{RED}'>3,328.75</span> <b>C:</b><span style='color:{RED}'>3,329.64</span>", 12.75)
text(15, 61, "<b>Gold Spot / U.S. Dollar · 3h · THINKMARKETS</b>", 12)
text(15, 78, "Vol · Ticks", 12)

# footer logo
pshape(poly([(6,1356),(16,1356),(16,1367),(11,1367),(11,1361),(6,1361)]), "#131722")
pcircle(19.5, 1358.5, 2.5, "#131722")
pshape(poly([(23.5,1356),(30,1356),(25,1367),(18.5,1367)]), "#131722")
text(35, 1362, "<b>TradingView</b>", 15.5, "#131722")

GRID = "rgba(170,130,80,0.11)"
fig = go.Figure()
fig.add_trace(go.Bar(x=list(range(m)), y=volumes[:m], yaxis="y2", width=0.8, showlegend=False,
                     marker=dict(color=["rgba(40,150,130,0.47)" if d == "G" else "rgba(247,95,70,0.5)" for d in volume_dir[:m]],
                                 line=dict(width=0))))
fig.add_trace(go.Candlestick(x=idx, open=opens[:n], high=highs[:n], low=lows[:n], close=closes[:n],
                             showlegend=False, whiskerwidth=0,
                             increasing=dict(line=dict(color="#089981", width=1), fillcolor="#1E9EC9"),
                             decreasing=dict(line=dict(color="#F23645", width=1), fillcolor="#E91E50")))
fig.add_trace(go.Scatter(x=forecast_i, y=forecast_p, mode="lines", showlegend=False,
                         line=dict(color="#4CAF50", width=3.5, shape="spline")))
fig.add_trace(go.Scatter(x=arrow_i, y=arrow_p, mode="lines", showlegend=False,
                         line=dict(color="#4CAF50", width=3.5)))

fig.update_layout(
    width=W, height=H, autosize=False, paper_bgcolor="white", plot_bgcolor="rgba(0,0,0,0)",
    margin=dict(l=PL, r=W-PR, t=PT, b=H-PB, pad=0), showlegend=False, hovermode=False,
    bargap=0, shapes=shapes, annotations=anns,
    font=dict(family="Roboto", size=12, color="#131722"),
    xaxis=dict(range=[-0.65, 509.3], tickmode="array", tickvals=date_pos, ticktext=date_txt,
               showgrid=True, gridcolor=GRID, gridwidth=1.5, zeroline=False, showline=False,
               ticks="", rangeslider=dict(visible=False), tickfont=dict(size=12, color="#131722"),
               ticklabelstandoff=6, tickangle=0),
    yaxis=dict(range=[price_min, price_max], side="right", tickmode="array", tickvals=price_ticks, ticktext=price_labels,
               showgrid=True, gridcolor=GRID, gridwidth=1.5, zeroline=False, showline=False,
               ticks="", tickfont=dict(size=12, color="#131722"), ticklabelstandoff=8),
    yaxis2=dict(range=[0, volume_max], overlaying="y", visible=False, fixedrange=True),
)

fig.write_html("out.html", config=dict(displayModeBar=False),
               post_script="document.body.style.margin='0';document.body.style.overflow='hidden';")
